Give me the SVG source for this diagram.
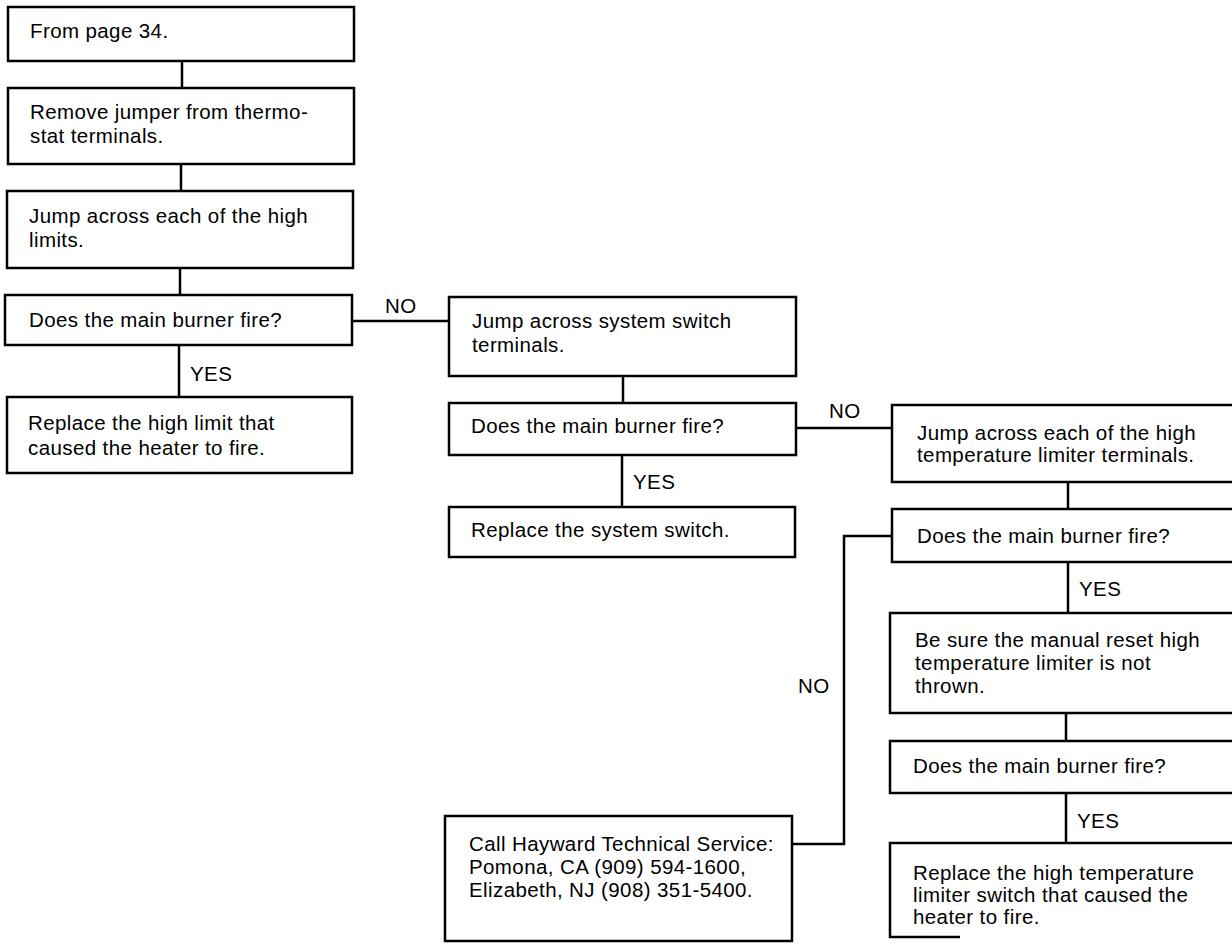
<svg xmlns="http://www.w3.org/2000/svg" width="1232" height="944" viewBox="0 0 1232 944">
<style>
.box{fill:#fff;stroke:#000;stroke-width:2.5}
.ln{fill:none;stroke:#000;stroke-width:2.5}
text{font-family:"Liberation Sans",Arial,sans-serif;font-size:20.5px;fill:#000;letter-spacing:0.4px}
</style>
<rect width="1232" height="944" fill="#fff"/>
<g id="connectors">
<path class="ln" d="M182 61V88M181 164V191M180 268V295M179 345V397"/>
<path class="ln" d="M352 321H449"/>
<path class="ln" d="M623 376V403M622 455V507"/>
<path class="ln" d="M796 428H892"/>
<path class="ln" d="M1068 482V509M1068 562V613M1066 713V741M1066 793V843"/>
<path class="ln" d="M892 536H844V844H792"/>
<text x="190" y="381">YES</text>
<text x="385" y="313">NO</text>
<text x="633" y="489">YES</text>
<text x="829" y="418">NO</text>
<text x="1079" y="596">YES</text>
<text x="798" y="693">NO</text>
<text x="1077" y="828">YES</text>
</g>
<g id="n1"><rect class="box" x="8" y="7" width="346" height="54"/><text x="30" y="38">From page 34.</text></g>
<g id="n2"><rect class="box" x="8" y="88" width="346" height="76"/><text x="30" y="119">Remove jumper from thermo-</text><text x="30" y="143">stat terminals.</text></g>
<g id="n3"><rect class="box" x="7" y="191" width="346" height="77"/><text x="29" y="223">Jump across each of the high</text><text x="29" y="247">limits.</text></g>
<g id="n4"><rect class="box" x="5" y="295" width="347" height="50"/><text x="29" y="327">Does the main burner fire?</text></g>
<g id="n5"><rect class="box" x="7" y="397" width="345" height="76"/><text x="28" y="430">Replace the high limit that</text><text x="28" y="455">caused the heater to fire.</text></g>
<g id="n6"><rect class="box" x="449" y="297" width="347" height="79"/><text x="472" y="328">Jump across system switch</text><text x="472" y="352">terminals.</text></g>
<g id="n7"><rect class="box" x="449" y="403" width="347" height="52"/><text x="471" y="433">Does the main burner fire?</text></g>
<g id="n8"><rect class="box" x="449" y="507" width="346" height="50"/><text x="471" y="537">Replace the system switch.</text></g>
<g id="n9"><rect class="box" x="892" y="405" width="350" height="77"/><text x="917" y="440">Jump across each of the high</text><text x="917" y="462">temperature limiter terminals.</text></g>
<g id="n10"><rect class="box" x="892" y="509" width="350" height="53"/><text x="917" y="543">Does the main burner fire?</text></g>
<g id="n11"><rect class="box" x="890" y="613" width="352" height="100"/><text x="915" y="647">Be sure the manual reset high</text><text x="915" y="670">temperature  limiter is not</text><text x="915" y="693">thrown.</text></g>
<g id="n12"><rect class="box" x="890" y="741" width="352" height="52"/><text x="913" y="773">Does the main burner fire?</text></g>
<g id="n13"><path class="ln" d="M1242 843H890V937H960"/><text x="913" y="880">Replace the high temperature</text><text x="913" y="902">limiter switch that caused the</text><text x="913" y="924">heater to fire.</text></g>
<g id="n14"><rect class="box" x="445" y="816" width="347" height="125"/><text x="469" y="851">Call Hayward Technical Service:</text><text x="469" y="874">Pomona, CA (909) 594-1600,</text><text x="469" y="897">Elizabeth, NJ (908) 351-5400.</text></g>
</svg>
